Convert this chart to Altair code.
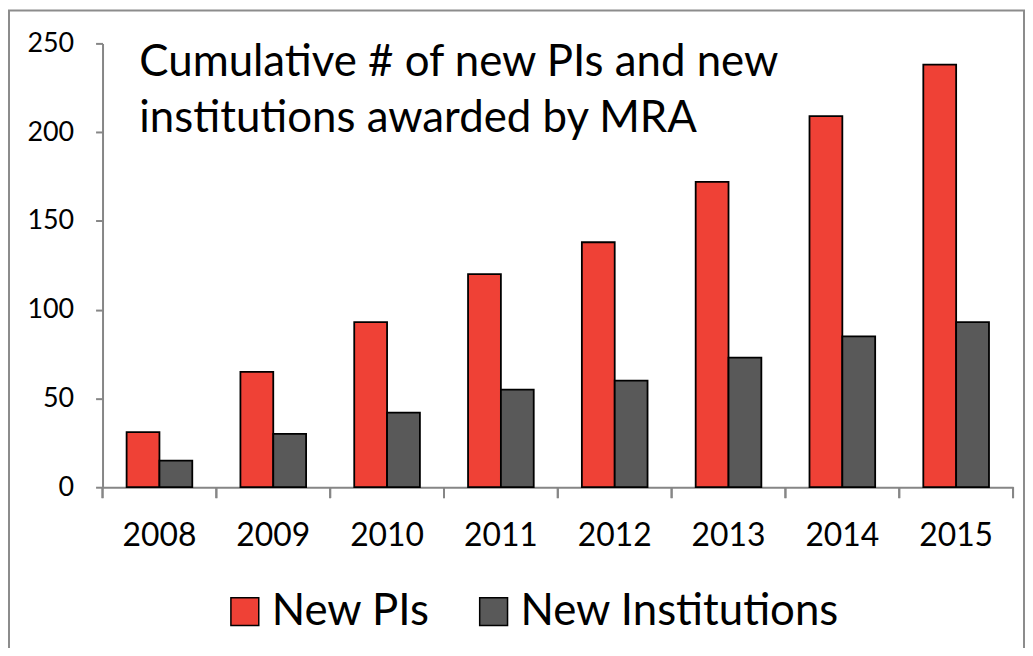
import altair as alt
import pandas as pd

years = ["2008", "2009", "2010", "2011", "2012", "2013", "2014", "2015"]
new_pis = [31, 65, 93, 120, 138, 172, 209, 238]
new_inst = [15, 30, 42, 55, 60, 73, 85, 93]
series = ["New PIs", "New Institutions"]
colors = ["#EF4136", "#595959"]
title_lines = ["Cumulative # of new PIs and new", "institutions awarded by MRA"]

rows = []
for i, y in enumerate(years):
    rows.append({"year": y, "series": series[0], "value": new_pis[i]})
    rows.append({"year": y, "series": series[1], "value": new_inst[i]})
df = pd.DataFrame(rows)

FONT = "Lato"
AXIS_GRAY = "#868686"

xscale = alt.Scale(paddingInner=0, paddingOuter=0)

bars = alt.Chart(df).mark_bar(stroke="black", strokeWidth=1.8).encode(
    x=alt.X("year:N", sort=years, scale=xscale, title=None,
            axis=alt.Axis(labelAngle=0, ticks=False, labelFontSize=32, labelFont=FONT,
                          labelColor="black", labelPadding=34, domainColor=AXIS_GRAY,
                          domainWidth=2)),
    xOffset=alt.XOffset("series:N", sort=series,
                        scale=alt.Scale(paddingInner=0, paddingOuter=0.733)),
    y=alt.Y("value:Q", scale=alt.Scale(domain=[0, 250], nice=False), title=None,
            axis=alt.Axis(values=[0, 50, 100, 150, 200, 250], grid=False, tickSize=7,
                          tickColor=AXIS_GRAY, tickWidth=2, domainColor=AXIS_GRAY,
                          domainWidth=2, labelFontSize=27, labelFont=FONT,
                          labelColor="black", labelPadding=22)),
    color=alt.Color("series:N", sort=series,
                    scale=alt.Scale(domain=series, range=colors),
                    legend=alt.Legend(title=None, orient="none", direction="horizontal",
                                      legendX=121, legendY=549,
                                      symbolType="square",
                                      symbolSize=784, symbolStrokeColor="black",
                                      symbolStrokeWidth=1.5, symbolOpacity=1,
                                      labelFontSize=44, labelFont=FONT, labelColor="black",
                                      labelLimit=600,
                                      labelOffset=5, columnPadding=42, padding=0)),
)

tick_start = alt.Chart(df).mark_rule(color=AXIS_GRAY, strokeWidth=2).encode(
    x=alt.X("year:N", sort=years, bandPosition=0),
    y=alt.value(446), y2=alt.value(457),
)
tick_end = alt.Chart(df).transform_filter(alt.datum.year == years[-1]).mark_rule(
    color=AXIS_GRAY, strokeWidth=2).encode(
    x=alt.X("year:N", sort=years, bandPosition=1),
    y=alt.value(446), y2=alt.value(457),
)

title = alt.Chart(alt.Data(values=[{"t": "\n".join(title_lines)}])).mark_text(
    align="left", baseline="alphabetic", fontSize=44, font=FONT, lineBreak="\n",
    lineHeight=56, color="black").encode(
    x=alt.value(37), y=alt.value(33), text="t:N")

border = alt.Chart(alt.Data(values=[{}])).mark_rect(
    fill=None, stroke="#8C8C8C", strokeWidth=2).encode(
    x=alt.value(-94), x2=alt.value(926), y=alt.value(-33), y2=alt.value(640))

chart = alt.layer(border, bars, tick_start, tick_end, title).resolve_scale(
    x="shared").properties(
    width=915, height=446,
    padding={"left": 95, "top": 34, "right": 12, "bottom": 160},
    autosize=alt.AutoSizeParams(type="none"),
    background="white",
).configure_view(stroke=None)

chart.save("out.html", embed_options={"renderer": "svg", "actions": False})
